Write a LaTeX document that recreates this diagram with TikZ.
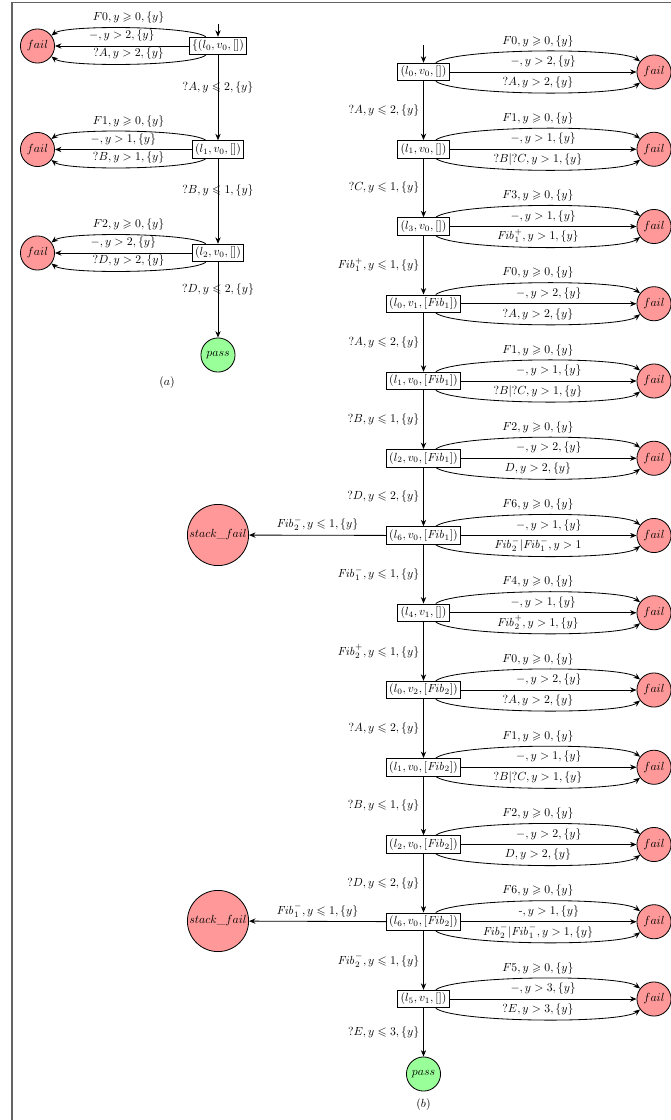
\documentclass[tikz,border=0pt]{standalone}
\usepackage{amsmath}
\usepackage{amssymb}
\usepackage{tikz}
\usetikzlibrary{arrows.meta, positioning}
\definecolor{failred}{RGB}{255,153,153}
\definecolor{passgreen}{RGB}{153,255,153}
\definecolor{framegray}{RGB}{100,100,100}
\newcommand{\Fib}{\mathit{Fib}}
\tikzset{
  cfg/.style={rectangle, draw, inner sep=2.5pt, line width=0.7pt},
  failnode/.style={circle, draw, fill=failred, minimum size=29pt,
    inner sep=0pt, line width=0.7pt},
  bigfail/.style={failnode, minimum size=52pt},
  passnode/.style={circle, draw, fill=passgreen, minimum size=29pt,
    inner sep=0pt, line width=0.7pt},
  trans/.style={-{Stealth[length=5.5pt,width=4.5pt]}, line width=0.7pt},
  upR/.style={out=37, in=143, looseness=0.3},
  downR/.style={out=-37, in=-143, looseness=0.3},
  upL/.style={out=143, in=37, looseness=0.3},
  downL/.style={out=217, in=323, looseness=0.3}
}

\begin{document}
\begin{tikzpicture}[x=0.85pt, y=-0.85pt]
  \useasboundingbox (0,0) rectangle (671,1120);
  \draw[framegray, line width=1pt] (12,1120) -- (12,2.5) -- (671,2.5);

  % (a)
  \node[cfg] (a0) at (218,46) {$\{(l_0,v_0,[])$};
  \node[cfg] (a1) at (218,149.5) {$(l_1,v_0,[])$};
  \node[cfg] (a2) at (218,253) {$(l_2,v_0,[])$};
  \foreach \i in {0,1,2}
    \node[failnode] (fa\i) at (37.5,{46+103.5*\i}) {$fail$};
  \node[passnode] (passa) at (218,355) {$pass$};
  \node at (167,383) {$(a)$};
  \coordinate (starta) at (218,24);
  \draw[trans] (starta) -- (a0);
  \foreach \i/\ta/\tb/\tc in {
    0/{$F0,y\geqslant 0,\{y\}$}/{$-,y>2,\{y\}$}/{$?A,y>2,\{y\}$},
    1/{$F1,y\geqslant 0,\{y\}$}/{$-,y>1,\{y\}$}/{$?B,y>1,\{y\}$},
    2/{$F2,y\geqslant 0,\{y\}$}/{$-,y>2,\{y\}$}/{$?D,y>2,\{y\}$}} {
    \draw[trans] (a\i) to[upL] node[above] {\ta} (fa\i);
    \draw[trans] (a\i) -- node[above] {\tb} (fa\i);
    \draw[trans] (a\i) to[downL] node[above] {\tc} (fa\i);
  }
  \draw[trans] (a0) -- node[above] {$?A,y\leqslant 2,\{y\}$} (a1);
  \draw[trans] (a1) -- node[above] {$?B,y\leqslant 1,\{y\}$} (a2);
  \draw[trans] (a2) -- node[above] {$?D,y\leqslant 2,\{y\}$} (passa);

  % (b)
  \foreach \txt [count=\i] in {
    {$(l_0,v_0,[])$}, {$(l_1,v_0,[])$}, {$(l_3,v_0,[])$},
    {$(l_0,v_1,[\Fib_1])$}, {$(l_1,v_0,[\Fib_1])$}, {$(l_2,v_0,[\Fib_1])$},
    {$(l_6,v_0,[\Fib_1])$}, {$(l_4,v_1,[])$}, {$(l_0,v_2,[\Fib_2])$},
    {$(l_1,v_0,[\Fib_2])$}, {$(l_2,v_0,[\Fib_2])$}, {$(l_6,v_0,[\Fib_2])$},
    {$(l_5,v_1,[])$}} {
    \node[cfg] (c\i) at (423.5,{72+77.25*(\i-1)}) {\txt};
    \node[failnode] (f\i) at (654,{72+77.25*(\i-1)}) {$fail$};
  }
  \coordinate (startb) at (423.5,45);
  \draw[trans] (startb) -- (c1);
  \foreach \i/\ta/\tb/\tc in {
    1/{$F0,y\geqslant 0,\{y\}$}/{$-,y>2,\{y\}$}/{$?A,y>2,\{y\}$},
    2/{$F1,y\geqslant 0,\{y\}$}/{$-,y>1,\{y\}$}/{$?B|?C,y>1,\{y\}$},
    3/{$F3,y\geqslant 0,\{y\}$}/{$-,y>1,\{y\}$}/{$\Fib_1^+,y>1,\{y\}$},
    4/{$F0,y\geqslant 0,\{y\}$}/{$-,y>2,\{y\}$}/{$?A,y>2,\{y\}$},
    5/{$F1,y\geqslant 0,\{y\}$}/{$-,y>1,\{y\}$}/{$?B|?C,y>1,\{y\}$},
    6/{$F2,y\geqslant 0,\{y\}$}/{$-,y>2,\{y\}$}/{$D,y>2,\{y\}$},
    7/{$F6,y\geqslant 0,\{y\}$}/{$-,y>1,\{y\}$}/{$\Fib_2^-|\Fib_1^-,y>1$},
    8/{$F4,y\geqslant 0,\{y\}$}/{$-,y>1,\{y\}$}/{$\Fib_2^+,y>1,\{y\}$},
    9/{$F0,y\geqslant 0,\{y\}$}/{$-,y>2,\{y\}$}/{$?A,y>2,\{y\}$},
    10/{$F1,y\geqslant 0,\{y\}$}/{$-,y>1,\{y\}$}/{$?B|?C,y>1,\{y\}$},
    11/{$F2,y\geqslant 0,\{y\}$}/{$-,y>2,\{y\}$}/{$D,y>2,\{y\}$},
    12/{$F6,y\geqslant 0,\{y\}$}/{-$,y>1,\{y\}$}/{$\Fib_2^-|\Fib_1^-,y>1,\{y\}$},
    13/{$F5,y\geqslant 0,\{y\}$}/{$-,y>3,\{y\}$}/{$?E,y>3,\{y\}$}} {
    \draw[trans] (c\i) to[upR] node[above] {\ta} (f\i);
    \draw[trans] (c\i) -- node[above] {\tb} (f\i);
    \draw[trans] (c\i) to[downR] node[above] {\tc} (f\i);
  }
  \foreach \i/\lab [count=\j from 2] in {
    1/{$?A,y\leqslant 2,\{y\}$}, 2/{$?C,y\leqslant 1,\{y\}$},
    3/{$\Fib_1^+,y\leqslant 1,\{y\}$}, 4/{$?A,y\leqslant 2,\{y\}$},
    5/{$?B,y\leqslant 1,\{y\}$}, 6/{$?D,y\leqslant 2,\{y\}$},
    7/{$\Fib_1^-,y\leqslant 1,\{y\}$}, 8/{$\Fib_2^+,y\leqslant 1,\{y\}$},
    9/{$?A,y\leqslant 2,\{y\}$}, 10/{$?B,y\leqslant 1,\{y\}$},
    11/{$?D,y\leqslant 2,\{y\}$}, 12/{$\Fib_2^-,y\leqslant 1,\{y\}$}}
    \draw[trans] (c\i) -- node[left] {\lab} (c\j);
  \node[passnode] (passb) at (423.5,1074) {$pass$};
  \node[below=3pt of passb] {$(b)$};
  \draw[trans] (c13) -- node[left] {$?E,y\leqslant 3,\{y\}$} (passb);

  % stack failures
  \node[bigfail] (sf1) at (218,535) {$stack\_fail$};
  \node[bigfail] (sf2) at (218,921) {$stack\_fail$};
  \draw[trans] (c7) -- node[above] {$\Fib_2^-,y\leqslant 1,\{y\}$} (sf1);
  \draw[trans] (c12) -- node[above] {$\Fib_1^-,y\leqslant 1,\{y\}$} (sf2);
\end{tikzpicture}
\end{document}
